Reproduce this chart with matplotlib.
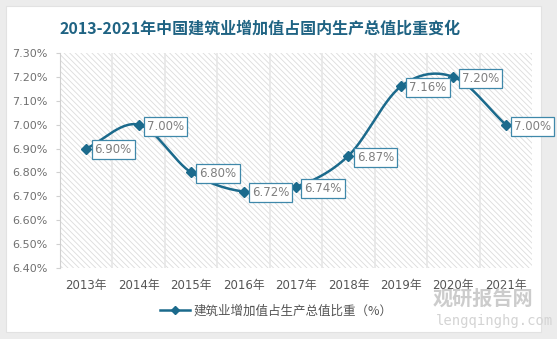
import numpy as np
import matplotlib.pyplot as plt
from matplotlib.patches import Rectangle
from matplotlib.lines import Line2D

plt.rcParams['font.family'] = ['Noto Sans CJK SC', 'DejaVu Sans']
plt.rcParams['hatch.linewidth'] = 0.6
plt.rcParams['hatch.color'] = '#dcdcdc'

years = ['2013年', '2014年', '2015年', '2016年', '2017年', '2018年', '2019年', '2020年', '2021年']
share = [6.90, 7.00, 6.80, 6.72, 6.74, 6.87, 7.16, 7.20, 7.00]
yticks = [6.40, 6.50, 6.60, 6.70, 6.80, 6.90, 7.00, 7.10, 7.20, 7.30]
title = '2013-2021年中国建筑业增加值占国内生产总值比重变化'
series_name = '建筑业增加值占生产总值比重（%）'

line_color = '#1b6a8c'
W, H = 557, 339


def smooth(xs, ys, n=30):
    # Catmull-Rom curve through the points, like a spreadsheet "smoothed line"
    xs = np.asarray(xs, float)
    ys = np.asarray(ys, float)
    px = np.concatenate([[2 * xs[0] - xs[1]], xs, [2 * xs[-1] - xs[-2]]])
    py = np.concatenate([[2 * ys[0] - ys[1]], ys, [2 * ys[-1] - ys[-2]]])
    ox, oy = [], []
    t = np.linspace(0, 1, n)
    for i in range(1, len(px) - 2):
        for p, out in ((px, ox), (py, oy)):
            p0, p1, p2, p3 = p[i - 1], p[i], p[i + 1], p[i + 2]
            out.extend(0.5 * ((2 * p1) + (-p0 + p2) * t
                              + (2 * p0 - 5 * p1 + 4 * p2 - p3) * t ** 2
                              + (-p0 + 3 * p1 - 3 * p2 + p3) * t ** 3))
    return np.array(ox), np.array(oy)


fig = plt.figure(figsize=(W / 100, H / 100), dpi=100, facecolor='#ececec')

# white card behind everything
card = Rectangle((6 / W, 1 - 332 / H), 535 / W, 326 / H, transform=fig.transFigure,
                 facecolor='white', edgecolor='#e2e2e2', linewidth=0.8, zorder=-10)
fig.patches.append(card)

ax = fig.add_axes([60 / W, 1 - 268 / H, 472 / W, 215 / H])
ax.patch.set_alpha(0)
ax.add_patch(Rectangle((0, 0), 1, 1, transform=ax.transAxes, facecolor='white',
                       hatch='\\\\\\\\\\\\', edgecolor='#dcdcdc', linewidth=0, zorder=0))

x = np.arange(len(years))
ax.set_xlim(-0.5, len(years) - 0.5)
ax.set_ylim(6.40, 7.30)

for b in np.arange(0.5, len(years) - 0.5, 1):
    ax.axvline(b, color='#e6e6e6', linewidth=1.2, zorder=1)

sx, sy = smooth(x, share)
ax.plot(sx, sy, color=line_color, linewidth=1.8, zorder=3)
ax.plot(x, share, linestyle='none', marker='D', markersize=5, color=line_color, zorder=4)

for xi, v in zip(x, share):
    ax.annotate(f'{v:.2f}%', (xi, v), xytext=(6, -1), textcoords='offset points',
                ha='left', va='center', fontsize=8.5, color='#7f7f7f', zorder=5,
                family=['DejaVu Sans'],
                bbox=dict(boxstyle='square,pad=0.25', facecolor='white',
                          edgecolor='#3f88aa', linewidth=0.9))

ax.set_yticks(yticks)
ax.set_yticklabels([f'{v:.2f}%' for v in yticks], family=['DejaVu Sans'])
ax.set_xticks(x)
ax.set_xticklabels(years, family=['DejaVu Sans', 'Noto Sans CJK SC'])
ax.tick_params(axis='y', labelsize=8, labelcolor='#707070', color='#d0d0d0', length=3, pad=6)
ax.tick_params(axis='x', labelsize=8.5, labelcolor='#555555', length=0, pad=8)
for s in ['top', 'right', 'bottom']:
    ax.spines[s].set_visible(False)
ax.spines['left'].set_color('#d0d0d0')

fig.text(260 / W, 1 - 29 / H, title, ha='center', va='center',
         fontsize=11.5, fontweight='bold', color='#1f6383')

handle = Line2D([], [], color=line_color, marker='D', markersize=4, linewidth=1.8)
fig.legend([handle], [series_name], loc='center', bbox_to_anchor=(276 / W, 1 - 311 / H),
           frameon=False, fontsize=9, labelcolor='#555555', handlelength=2.4,
           handletextpad=0.3)

# site watermark
fig.text(433 / W, 1 - 298 / H, '观研报告网', ha='left', va='center', fontsize=14.5,
         fontweight='bold', color='#c4c4c4', alpha=0.85)
fig.text(436 / W, 1 - 321 / H, 'lengqinghg.com', ha='left', va='center', fontsize=10,
         family=['DejaVu Sans Mono'], color='#d4d4d4')

fig.savefig('out.png', dpi=100, facecolor=fig.get_facecolor())
